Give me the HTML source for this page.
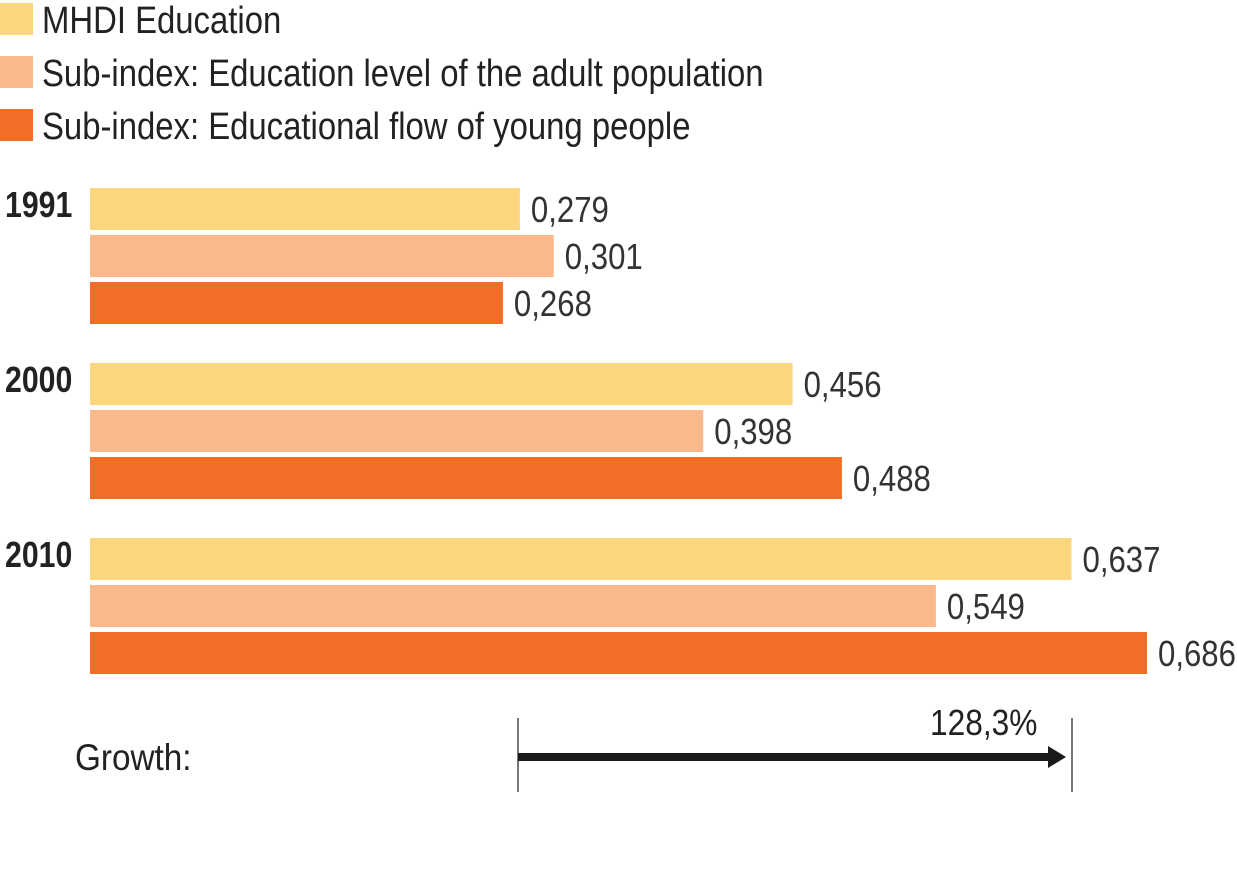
<!DOCTYPE html>
<html><head><meta charset="utf-8"><style>
body{margin:0;background:#fff;}
svg text{font-family:"Liberation Sans Narrow","Liberation Sans",sans-serif;}
</style></head><body>
<svg id="chart" width="1237" height="884" xmlns="http://www.w3.org/2000/svg">
<g id="legend"></g>
<g id="bars"></g>
<g id="growth">
<text transform="translate(75,770) scale(0.9,1)" font-size="37" fill="#222">Growth:</text>
<line x1="518" y1="718" x2="518" y2="792" stroke="#777" stroke-width="2"/>
<line x1="1072" y1="718" x2="1072" y2="792" stroke="#777" stroke-width="2"/>
<line x1="518" y1="757" x2="1050" y2="757" stroke="#1a1a1a" stroke-width="8"/>
<polygon points="1048,746 1066,757 1048,768" fill="#1a1a1a"/>
<text transform="translate(930,735) scale(0.88,1)" font-size="36" fill="#222">128,3%</text>
</g>
</svg>
<script>
const years = ["1991","2000","2010"];
const seriesNames = ["MHDI Education","Sub-index: Education level of the adult population","Sub-index: Educational flow of young people"];
const mhdi = [0.279,0.456,0.637];
const adult = [0.301,0.398,0.549];
const young = [0.268,0.488,0.686];
const colors = ["#FAD67F","#F9B98A","#F26E26"];
const NS="http://www.w3.org/2000/svg";
const x0=90, scale=1540.8;
const xPos = v => x0 + v*scale;
const series=[mhdi,adult,young];
const sNames=["mhdi","adult","young"];
function mk(tag,attrs,parent,text){const e=document.createElementNS(NS,tag);for(const k in attrs)e.setAttribute(k,attrs[k]);if(text!==undefined)e.textContent=text;parent.appendChild(e);return e;}
const lg=document.getElementById('legend');
seriesNames.forEach((n,i)=>{
  const y=3+i*53;
  const r=mk('rect',{x:0,y:y,width:33,height:32,fill:colors[i]},lg);
  
  
  const t=mk('text',{transform:'translate(42,'+(y+30)+') scale(0.865,1)','font-size':38,fill:'#222'},lg,n);
  
  
});
const bg=document.getElementById('bars');
years.forEach((yr,g)=>{
  const gy=188+g*175;
  const yl=mk('text',{transform:'translate(5,'+(gy+29)+') scale(0.84,1)','font-size':36,'font-weight':'bold',fill:'#222'},bg,yr);
  
  
  series.forEach((s,i)=>{
    const y=gy+i*47;
    const w=xPos(s[g])-x0;
    const r=mk('rect',{x:x0,y:y,width:w,height:42,fill:colors[i]},bg);
    
    
    const t=mk('text',{transform:'translate('+(xPos(s[g])+11)+','+(y+34)+') scale(0.866,1)','font-size':36,fill:'#333'},bg,s[g].toFixed(3).replace('.',','));
    
    
  });
});
</script>
</body></html>
